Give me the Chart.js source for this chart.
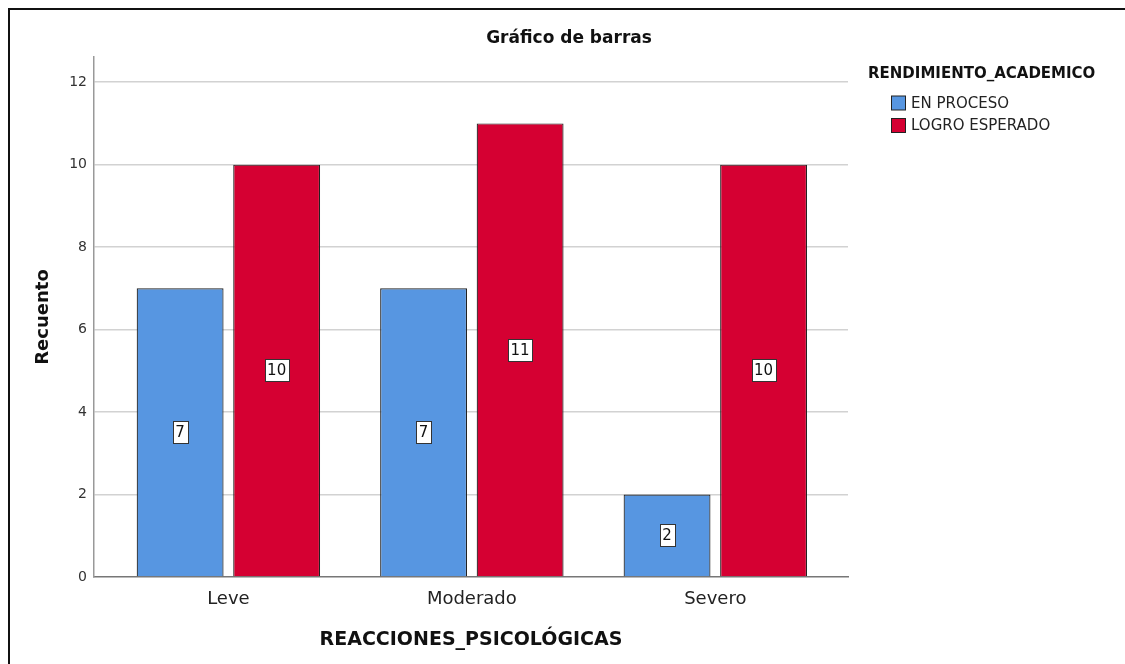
<!DOCTYPE html>
<html>
<head>
<meta charset="utf-8">
<title>Gráfico de barras</title>
<script src="https://cdn.jsdelivr.net/npm/chart.js@4.4.1/dist/chart.umd.min.js"></script>
<style>
  html, body { margin: 0; padding: 0; background: #fff; }
  #wrap { position: relative; width: 1125px; height: 664px; overflow: hidden; }
  #frame { position: absolute; left: 8px; top: 8px; width: 1200px; height: 700px;
           border-top: 2px solid #111; border-left: 2px solid #111; }
  #chart { position: absolute; left: 0; top: 0; }
</style>
</head>
<body>
<div id="wrap">
  <div id="frame"></div>
  <canvas id="chart" width="1125" height="664"></canvas>
</div>
<script>
// Data
const categories = ['Leve', 'Moderado', 'Severo'];
const enProceso = [7, 7, 2];
const logroEsperado = [10, 11, 10];
const seriesNames = ['EN PROCESO', 'LOGRO ESPERADO'];
const yTicks = [0, 2, 4, 6, 8, 10, 12];

// Texts
const chartTitle = 'Gráfico de barras';
const legendTitle = 'RENDIMIENTO_ACADEMICO';
const xTitle = 'REACCIONES_PSICOLÓGICAS';
const yTitle = 'Recuento';

const FONT = "'DejaVu Sans', sans-serif";
const colors = ['#5796E1', '#D50032'];

// value boxes in the middle of every bar
const barLabels = {
    id: 'barLabels',
    afterDatasetsDraw(chart) {
        const ctx = chart.ctx;
        ctx.save();
        ctx.font = `15px ${FONT}`;
        ctx.textAlign = 'center';
        ctx.textBaseline = 'middle';
        chart.data.datasets.forEach((ds, di) => {
            chart.getDatasetMeta(di).data.forEach((bar, i) => {
                const txt = String(ds.data[i].y);
                const cy = (bar.y + bar.base) / 2;
                const w = Math.round(ctx.measureText(txt).width + 5);
                const h = 22;
                const x0 = Math.round(bar.x - w / 2) + 0.5;
                const y0 = Math.round(cy - h / 2) + 0.5;
                ctx.fillStyle = '#fff';
                ctx.fillRect(x0, y0, w, h);
                ctx.strokeStyle = '#333';
                ctx.lineWidth = 1;
                ctx.strokeRect(x0, y0, w, h);
                ctx.fillStyle = '#111';
                ctx.fillText(txt, bar.x, cy + 1);
            });
        });
        ctx.restore();
    }
};

// chart title + legend on the right (SPSS style)
const spssDecor = {
    id: 'spssDecor',
    afterDraw(chart) {
        const ctx = chart.ctx;
        ctx.save();
        ctx.fillStyle = '#111';
        ctx.textBaseline = 'middle';
        ctx.textAlign = 'center';
        ctx.font = `bold 17px ${FONT}`;
        ctx.fillText(chartTitle, 569, 39);

        ctx.textAlign = 'left';
        ctx.font = `bold 15px ${FONT}`;
        ctx.fillText(legendTitle, 868, 74);

        ctx.font = `15px ${FONT}`;
        seriesNames.forEach((name, i) => {
            const y = 103 + i * 22.5;
            ctx.fillStyle = colors[i];
            ctx.fillRect(891.5, y - 7, 14, 14);
            ctx.strokeStyle = '#222';
            ctx.lineWidth = 1;
            ctx.strokeRect(891.5, y - 7, 14, 14);
            ctx.fillStyle = '#222';
            ctx.fillText(name, 911, y + 1);
        });
        ctx.restore();
    }
};

const ctx = document.getElementById('chart').getContext('2d');
new Chart(ctx, {
    type: 'bar',
    data: {
        datasets: [
            {
                label: seriesNames[0],
                data: categories.map((c, i) => ({ x: i, y: enProceso[i] })),
                backgroundColor: colors[0],
                borderColor: '#222',
                borderWidth: 1.2,
                categoryPercentage: 0.793,
                barPercentage: 0.9
            },
            {
                label: seriesNames[1],
                data: categories.map((c, i) => ({ x: i, y: logroEsperado[i] })),
                backgroundColor: colors[1],
                borderColor: '#222',
                borderWidth: 1.2,
                categoryPercentage: 0.793,
                barPercentage: 0.9
            }
        ]
    },
    options: {
        responsive: false,
        animation: false,
        layout: { padding: { top: 57, right: 277, left: 0, bottom: 0 } },
        plugins: {
            legend: { display: false },
            title: { display: false },
            tooltip: { enabled: false }
        },
        scales: {
            x: {
                type: 'linear',
                offset: false,
                min: -0.552,
                max: 2.545,
                afterBuildTicks: (axis) => { axis.ticks = categories.map((c, i) => ({ value: i })); },
                afterFit: (scale) => { scale.height = 87; },
                grid: { display: false, drawTicks: false },
                border: { display: true, color: '#777', width: 1.5 },
                ticks: {
                    padding: 12,
                    color: '#222',
                    font: { family: FONT, size: 18 },
                    callback: (v) => categories[v] ?? ''
                },
                title: {
                    display: true,
                    text: xTitle,
                    color: '#111',
                    font: { family: FONT, size: 19, weight: 'bold' },
                    padding: { top: 0, bottom: 12.6 }
                }
            },
            y: {
                min: 0,
                max: 12.61,
                afterBuildTicks: (axis) => { axis.ticks = yTicks.map(v => ({ value: v })); },
                afterFit: (scale) => { scale.width = 94; },
                grid: {
                    drawTicks: false,
                    color: (c) => c.tick && c.tick.value === 0 ? 'rgba(0,0,0,0)' : '#d2d2d2',
                    lineWidth: 1.5
                },
                border: { display: true, color: '#999', width: 1.5 },
                ticks: {
                    padding: 7,
                    color: '#333',
                    font: { family: FONT, size: 14 }
                },
                title: {
                    display: true,
                    text: yTitle,
                    color: '#111',
                    font: { family: FONT, size: 18, weight: 'bold' },
                    padding: { top: 33, bottom: 0 }
                }
            }
        }
    },
    plugins: [barLabels, spssDecor]
});
</script>
</body>
</html>
